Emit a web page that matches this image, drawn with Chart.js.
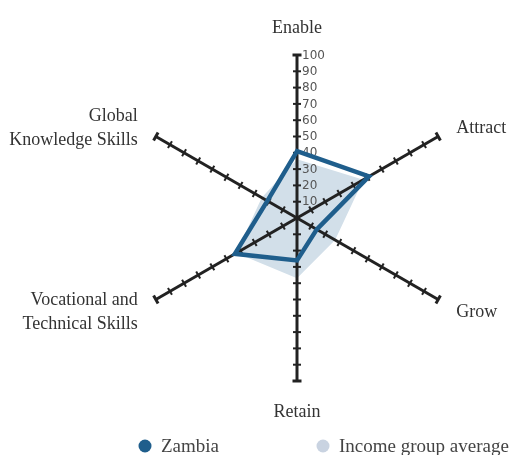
<!DOCTYPE html>
<html>
<head>
<meta charset="utf-8">
<script src="https://cdn.jsdelivr.net/npm/chart.js@4.4.0/dist/chart.umd.min.js"></script>
<style>
  html, body { margin: 0; padding: 0; background: #fff; }
</style>
</head>
<body>
<canvas id="c" width="511" height="455"></canvas>
<script>
const LABELS = ['Enable', 'Attract', 'Grow', 'Retain', ['Vocational and', 'Technical Skills'], ['Global', 'Knowledge Skills']];
const ZAMBIA = [41, 51, 14, 26, 44, 21];
const INCOME_AVG = [36, 47, 27, 37, 43, 25];
const TICKS = [10, 20, 30, 40, 50, 60, 70, 80, 90, 100];

const ZAMBIA_COLOR = '#1f5e8c';
const AVG_FILL = '#d2dfe9';
const AVG_LEGEND = '#c9d3e1';
const LABEL_FONT = '18px "Liberation Serif", serif';
const LEGEND_FONT = '19px "Liberation Serif", serif';

// axes with cross marks, drawn right after the shaded average so the
// Zambia outline still sits on top of them
const axesPlugin = {
    id: 'axes',
    afterDatasetDraw(chart, args){
        if(args.index !== 1) return;
        const scale = chart.scales.r;
        const ctx = chart.ctx;
        ctx.save();
        ctx.strokeStyle = '#222';
        for(let i = 0; i < chart.data.labels.length; i++){
            const end = scale.getPointPositionForValue(i, 100);
            ctx.lineWidth = 3;
            ctx.beginPath();
            ctx.moveTo(scale.xCenter, scale.yCenter);
            ctx.lineTo(end.x, end.y);
            ctx.stroke();
            const px = -Math.sin(end.angle), py = Math.cos(end.angle);
            TICKS.forEach(v => {
                const p = scale.getPointPositionForValue(i, v);
                const half = v === 100 ? 4.5 : 4;
                ctx.lineWidth = v === 100 ? 3 : 2;
                ctx.beginPath();
                ctx.moveTo(p.x - px * half, p.y - py * half);
                ctx.lineTo(p.x + px * half, p.y + py * half);
                ctx.stroke();
            });
        }
        // tick numbers along the first axis
        ctx.fillStyle = '#555';
        ctx.font = '12px "DejaVu Sans", sans-serif';
        ctx.textAlign = 'left';
        ctx.textBaseline = 'middle';
        TICKS.forEach(v => {
            const p = scale.getPointPositionForValue(0, v);
            ctx.fillText(String(v), p.x + 5, p.y + 0.5);
        });
        ctx.restore();
    },
    afterDraw(chart){
        const scale = chart.scales.r;
        const ctx = chart.ctx;
        ctx.save();
        ctx.fillStyle = '#333';
        ctx.font = LABEL_FONT;
        ctx.textBaseline = 'middle';
        chart.data.labels.forEach((label, i) => {
            const lines = Array.isArray(label) ? label : [label];
            const deg = i * 360 / chart.data.labels.length;
            const vertical = deg === 0 || deg === 180;
            const p = scale.getPointPosition(i, scale.drawingArea + (vertical ? 29 : 21));
            if(vertical) ctx.textAlign = 'center';
            else ctx.textAlign = deg < 180 ? 'left' : 'right';
            const lh = 24;
            const y0 = p.y + 2 - (lines.length - 1) * lh / 2;
            lines.forEach((t, k) => ctx.fillText(t, p.x, y0 + k * lh));
        });

        // legend
        const items = [
            {text: chart.data.datasets[0].label, color: ZAMBIA_COLOR, x: 145},
            {text: chart.data.datasets[1].label, color: AVG_LEGEND, x: 323}
        ];
        ctx.font = LEGEND_FONT;
        ctx.textAlign = 'left';
        items.forEach(it => {
            ctx.fillStyle = it.color;
            ctx.beginPath();
            ctx.arc(it.x, 446, 6.5, 0, Math.PI * 2);
            ctx.fill();
            ctx.fillStyle = '#444';
            ctx.fillText(it.text, it.x + 16, 447);
        });
        ctx.restore();
    }
};

new Chart(document.getElementById('c'), {
    type: 'radar',
    data: {
        labels: LABELS,
        datasets: [{
            label: 'Zambia',
            data: ZAMBIA,
            borderColor: ZAMBIA_COLOR,
            backgroundColor: 'rgba(0,0,0,0)',
            borderWidth: 4.5,
            borderJoinStyle: 'miter',
            fill: false,
            pointRadius: 0,
            order: 0
        }, {
            label: 'Income group average',
            data: INCOME_AVG,
            borderColor: 'rgba(0,0,0,0)',
            backgroundColor: AVG_FILL,
            borderWidth: 0,
            fill: true,
            pointRadius: 0,
            order: 1
        }]
    },
    options: {
        responsive: false,
        devicePixelRatio: 1,
        animation: false,
        layout: {
            padding: {left: 84, right: 0, top: 55, bottom: 74}
        },
        plugins: {
            legend: {display: false},
            tooltip: {enabled: false}
        },
        scales: {
            r: {
                min: 0,
                max: 100,
                ticks: {display: false, stepSize: 10},
                grid: {display: false},
                angleLines: {display: false},
                pointLabels: {display: false}
            }
        }
    },
    plugins: [axesPlugin]
});
</script>
</body>
</html>
